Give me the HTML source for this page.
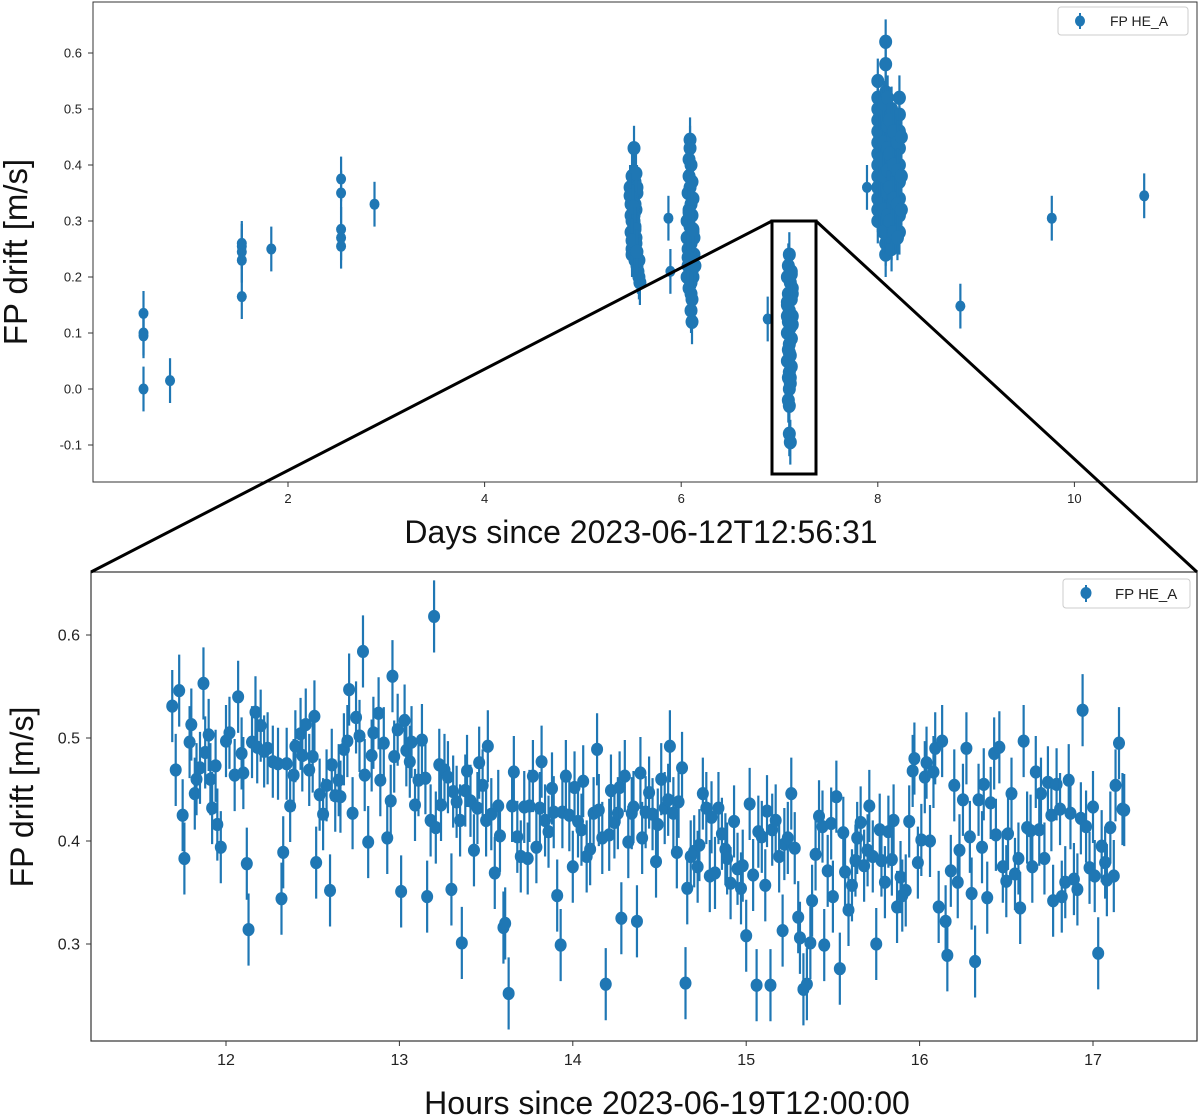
<!DOCTYPE html>
<html><head><meta charset="utf-8"><style>
html,body{margin:0;padding:0;background:#fff;}
svg{display:block;font-family:"Liberation Sans","DejaVu Sans",sans-serif;}
</style></head><body>
<svg id="chart" width="1200" height="1116" viewBox="0 0 1200 1116"></svg>
<script>
// ---- top panel data ----
const topDays = [0.53,0.53,0.53,0.53,0.80,1.53,1.53,1.53,1.53,1.53,1.83,2.54,2.54,2.54,2.54,2.54,2.88,5.87,5.89,6.88,7.89,8.84,9.77,10.71];
const topVals = [0.135,0.10,0.095,0.0,0.015,0.165,0.23,0.245,0.255,0.26,0.25,0.375,0.35,0.285,0.27,0.255,0.33,0.305,0.21,0.125,0.36,0.148,0.305,0.345];
const clusterADays = [5.52,5.50,5.53,5.48,5.55,5.51,5.49,5.54,5.52,5.50,5.53,5.49,5.51,5.54,5.52,5.50,5.53,5.55,5.56,5.57,5.58,5.51,5.53,5.49,5.52,5.54,5.50,5.55,5.52,5.57,5.54,5.48,5.51,5.53,5.50,5.55];
const clusterAVals = [0.43,0.38,0.37,0.36,0.35,0.34,0.33,0.32,0.31,0.30,0.29,0.28,0.27,0.26,0.25,0.24,0.23,0.22,0.21,0.20,0.19,0.35,0.33,0.31,0.29,0.27,0.25,0.36,0.30,0.23,0.385,0.345,0.325,0.285,0.265,0.245];
const clusterBDays = [6.09,6.09,6.08,6.10,6.08,6.09,6.07,6.10,6.08,6.11,6.07,6.09,6.12,6.06,6.10,6.08,6.13,6.09,6.07,6.11,6.12,6.10,6.08,6.11,6.10,6.11,6.12,6.06,6.13,6.07,6.14,6.06,6.11,6.08,6.12,6.07,6.10];
const clusterBVals = [0.445,0.43,0.41,0.40,0.38,0.36,0.35,0.33,0.32,0.31,0.30,0.29,0.28,0.27,0.26,0.25,0.24,0.23,0.22,0.21,0.20,0.19,0.18,0.16,0.14,0.12,0.34,0.30,0.27,0.25,0.22,0.20,0.37,0.315,0.285,0.235,0.17];
const clusterCDays = [7.10,7.09,7.12,7.08,7.11,7.13,7.09,7.12,7.08,7.10,7.13,7.09,7.11,7.08,7.12,7.10,7.09,7.11,7.08,7.12,7.10,7.09,7.11,7.10,7.09,7.10,7.10,7.11,7.13,7.08,7.12,7.09,7.11,7.12,7.08,7.13,7.10];
const clusterCVals = [0.24,0.22,0.21,0.20,0.19,0.18,0.17,0.16,0.15,0.14,0.13,0.12,0.11,0.10,0.09,0.08,0.07,0.06,0.05,0.04,0.03,0.02,0.01,0.00,-0.02,-0.03,-0.08,-0.095,0.17,0.13,0.09,0.05,0.02,0.205,0.155,0.115,0.065];
const clusterDDays = [8.00,8.00,8.00,8.00,8.00,8.00,8.00,8.00,8.00,8.00,8.00,8.00,8.00,8.08,8.08,8.08,8.08,8.08,8.08,8.08,8.08,8.08,8.08,8.08,8.14,8.14,8.14,8.14,8.14,8.14,8.14,8.14,8.14,8.14,8.22,8.22,8.22,8.22,8.22,8.22,8.22,8.22,8.22,8.04,8.04,8.04,8.04,8.04,8.18,8.18,8.18,8.18,8.18,8.18,8.02,8.02,8.02,8.02,8.06,8.06,8.06,8.06,8.06,8.10,8.10,8.10,8.10,8.10,8.10,8.12,8.12,8.12,8.12,8.16,8.16,8.16,8.16,8.20,8.20,8.20,8.20,8.24,8.24,8.24];
const clusterDVals = [0.55,0.52,0.50,0.48,0.46,0.44,0.42,0.40,0.38,0.36,0.34,0.32,0.30,0.62,0.58,0.53,0.49,0.45,0.41,0.37,0.33,0.29,0.26,0.24,0.50,0.47,0.44,0.41,0.38,0.35,0.32,0.29,0.27,0.25,0.52,0.49,0.46,0.43,0.40,0.37,0.34,0.31,0.28,0.47,0.43,0.39,0.35,0.31,0.45,0.42,0.39,0.36,0.33,0.30,0.49,0.45,0.41,0.33,0.51,0.44,0.38,0.32,0.28,0.52,0.47,0.43,0.39,0.35,0.31,0.48,0.42,0.36,0.30,0.46,0.40,0.34,0.28,0.44,0.39,0.33,0.27,0.45,0.38,0.32];
const topXTicks = [2,4,6,8,10];
const topYTicks = [-0.1,0.0,0.1,0.2,0.3,0.4,0.5,0.6];
const topErr = 0.04;

// ---- bottom panel data ----
const hours = [11.69,11.71,11.73,11.75,11.76,11.79,11.80,11.82,11.83,11.85,11.87,11.88,11.90,11.91,11.92,11.94,11.95,11.97,12.00,12.02,12.05,12.07,12.09,12.10,12.12,12.13,12.15,12.17,12.18,12.20,12.22,12.24,12.27,12.30,12.32,12.33,12.35,12.37,12.39,12.40,12.43,12.44,12.46,12.48,12.50,12.51,12.52,12.54,12.56,12.58,12.60,12.61,12.63,12.65,12.66,12.68,12.70,12.71,12.73,12.75,12.77,12.79,12.80,12.82,12.84,12.85,12.88,12.89,12.91,12.93,12.95,12.96,12.97,12.99,13.01,13.03,13.04,13.06,13.07,13.09,13.11,13.13,13.15,13.16,13.18,13.20,13.21,13.23,13.24,13.26,13.28,13.30,13.31,13.33,13.35,13.36,13.38,13.39,13.41,13.43,13.45,13.46,13.48,13.50,13.51,13.53,13.55,13.57,13.58,13.60,13.61,13.63,13.65,13.66,13.68,13.70,13.72,13.74,13.75,13.77,13.79,13.81,13.82,13.84,13.86,13.88,13.89,13.91,13.93,13.94,13.96,13.98,14.00,14.01,14.03,14.05,14.06,14.08,14.10,14.12,14.14,14.15,14.17,14.19,14.21,14.22,14.24,14.26,14.27,14.28,14.30,14.32,14.34,14.35,14.37,14.39,14.40,14.42,14.44,14.46,14.48,14.49,14.51,14.53,14.55,14.56,14.58,14.60,14.61,14.63,14.65,14.66,14.68,14.70,14.72,14.73,14.75,14.77,14.79,14.80,14.82,14.84,14.86,14.88,14.89,14.91,14.93,14.95,14.97,14.98,15.00,15.02,15.04,15.06,15.07,15.09,15.11,15.12,15.14,15.15,15.17,15.19,15.21,15.22,15.24,15.26,15.28,15.30,15.31,15.33,15.35,15.37,15.38,15.40,15.42,15.44,15.45,15.47,15.49,15.50,15.52,15.54,15.56,15.57,15.59,15.61,15.63,15.64,15.66,15.68,15.70,15.71,15.73,15.75,15.77,15.78,15.80,15.82,15.84,15.85,15.87,15.89,15.90,15.92,15.94,15.96,15.97,15.99,16.01,16.03,16.04,16.06,16.08,16.09,16.11,16.13,16.15,16.16,16.18,16.20,16.22,16.23,16.25,16.27,16.29,16.30,16.32,16.34,16.36,16.37,16.39,16.41,16.43,16.44,16.46,16.48,16.50,16.51,16.53,16.55,16.57,16.58,16.60,16.62,16.64,16.65,16.67,16.69,16.70,16.72,16.74,16.76,16.77,16.79,16.81,16.82,16.84,16.86,16.87,16.89,16.91,16.93,16.94,16.96,16.98,17.00,17.01,17.03,17.05,17.07,17.08,17.10,17.12,17.13,17.15,17.17,17.18];
const drift = [0.531,0.469,0.546,0.425,0.383,0.496,0.513,0.446,0.460,0.471,0.553,0.486,0.503,0.460,0.432,0.473,0.416,0.394,0.497,0.505,0.464,0.540,0.485,0.466,0.378,0.314,0.496,0.525,0.491,0.512,0.487,0.490,0.477,0.475,0.344,0.389,0.475,0.434,0.464,0.492,0.504,0.483,0.513,0.469,0.482,0.521,0.379,0.445,0.426,0.454,0.352,0.474,0.444,0.459,0.443,0.489,0.497,0.547,0.427,0.520,0.502,0.584,0.464,0.399,0.483,0.505,0.524,0.459,0.495,0.403,0.439,0.560,0.482,0.508,0.351,0.517,0.488,0.477,0.496,0.435,0.459,0.498,0.461,0.346,0.420,0.618,0.413,0.474,0.435,0.469,0.462,0.353,0.448,0.438,0.420,0.301,0.449,0.468,0.439,0.391,0.432,0.476,0.454,0.420,0.492,0.426,0.369,0.434,0.405,0.316,0.320,0.252,0.434,0.467,0.404,0.385,0.433,0.383,0.434,0.463,0.394,0.432,0.477,0.420,0.409,0.451,0.428,0.347,0.299,0.428,0.463,0.425,0.375,0.452,0.419,0.411,0.458,0.385,0.392,0.427,0.489,0.430,0.403,0.261,0.406,0.449,0.418,0.427,0.452,0.325,0.463,0.399,0.427,0.433,0.322,0.466,0.403,0.428,0.447,0.426,0.380,0.416,0.460,0.432,0.440,0.492,0.427,0.389,0.438,0.471,0.262,0.354,0.385,0.390,0.375,0.396,0.446,0.432,0.366,0.423,0.369,0.432,0.407,0.392,0.383,0.359,0.419,0.373,0.354,0.376,0.308,0.436,0.367,0.260,0.409,0.404,0.357,0.429,0.260,0.411,0.420,0.385,0.313,0.397,0.403,0.446,0.393,0.326,0.306,0.256,0.261,0.301,0.342,0.387,0.424,0.414,0.299,0.371,0.417,0.346,0.443,0.276,0.408,0.370,0.333,0.357,0.381,0.403,0.418,0.376,0.391,0.434,0.385,0.300,0.411,0.381,0.360,0.409,0.382,0.420,0.336,0.365,0.347,0.352,0.419,0.468,0.480,0.379,0.401,0.462,0.476,0.400,0.467,0.490,0.336,0.497,0.322,0.289,0.371,0.454,0.360,0.391,0.440,0.490,0.404,0.349,0.283,0.440,0.394,0.455,0.345,0.437,0.485,0.406,0.491,0.375,0.361,0.407,0.446,0.368,0.383,0.335,0.497,0.413,0.410,0.375,0.467,0.411,0.446,0.383,0.457,0.425,0.342,0.455,0.431,0.346,0.360,0.459,0.427,0.363,0.353,0.422,0.527,0.414,0.374,0.433,0.366,0.291,0.395,0.379,0.362,0.413,0.366,0.454,0.495,0.431,0.430];
const botXTicks = [12,13,14,15,16,17];
const botYTicks = [0.3,0.4,0.5,0.6];
const botErr = 0.035;

const NS = 'http://www.w3.org/2000/svg';
const svg = document.getElementById('chart');
const C = '#1f77b4';
function mk(tag, attrs, parent){ const e=document.createElementNS(NS,tag); for(const k in attrs) e.setAttribute(k,attrs[k]); (parent||svg).appendChild(e); return e; }

// axis functions
const tx = d => 91.4 + 98.3*d;
const ty = v => 389 - 560*v;
const bx = h => 226 + 173.4*(h-12);
const by = v => 738 - 1030*(v-0.5);

function drawPoints(g, xs, ys, fx, fy, err, r, name){
  for(let i=0;i<xs.length;i++){
    const x=fx(xs[i]), y=fy(ys[i]);
    const l=mk('line',{x1:x,x2:x,y1:fy(ys[i]+err),y2:fy(ys[i]-err),stroke:C,'stroke-width':2.2},g);
    
    
    const c=mk('ellipse',{cx:x,cy:y,rx:r,ry:r*1.1,fill:C},g);
    
    
  }
}

// ---- top panel ----
const gTop = mk('g',{});


drawPoints(gTop, topDays, topVals, tx, ty, topErr, 5, 'top');
drawPoints(gTop, clusterADays, clusterAVals, tx, ty, topErr, 6.5, 'cluster-a');
drawPoints(gTop, clusterBDays, clusterBVals, tx, ty, topErr, 6.5, 'cluster-b');
drawPoints(gTop, clusterCDays, clusterCVals, tx, ty, topErr, 6.5, 'cluster-c');
drawPoints(gTop, clusterDDays, clusterDVals, tx, ty, topErr, 6.5, 'cluster-d');
const tf = mk('rect',{x:93,y:2,width:1104,height:480,fill:'none',stroke:'#333','stroke-width':1},gTop);


topXTicks.forEach(t=>{
  const x=tx(t);
  mk('line',{x1:x,x2:x,y1:482,y2:487,stroke:'#333'},gTop);
  const s=mk('text',{x:x,y:503,'font-size':13,'text-anchor':'middle',fill:'#222'},gTop);
  s.textContent=t;
  
  
});
topYTicks.forEach(t=>{
  const y=ty(t);
  mk('line',{x1:88,x2:93,y1:y,y2:y,stroke:'#333'},gTop);
  const s=mk('text',{x:82,y:y+4.5,'font-size':13,'text-anchor':'end',fill:'#222'},gTop);
  s.textContent=t.toFixed(1);
  
  
});

// ---- bottom panel ----
const gBot = mk('g',{});


drawPoints(gBot, hours, drift, bx, by, botErr, 6, 'zoom');
const bf = mk('rect',{x:91,y:572,width:1106,height:469,fill:'none',stroke:'#333','stroke-width':1.2},gBot);


botXTicks.forEach(t=>{
  const x=bx(t);
  mk('line',{x1:x,x2:x,y1:1041,y2:1046,stroke:'#333'},gBot);
  const s=mk('text',{x:x,y:1065,'font-size':16,'text-anchor':'middle',fill:'#222'},gBot);
  s.textContent=t;
  
  
});
botYTicks.forEach(t=>{
  const y=by(t);
  mk('line',{x1:86,x2:91,y1:y,y2:y,stroke:'#333'},gBot);
  const s=mk('text',{x:80,y:y+5.5,'font-size':16,'text-anchor':'end',fill:'#222'},gBot);
  s.textContent=t.toFixed(1);
  
  
});
</script>
<script>
// static overlay: zoom box, connector lines, legends, titles
(function(){
const svg=document.getElementById('chart');
const html = `
<rect x="772" y="221" width="44" height="253" fill="none" stroke="#000" stroke-width="3"/>
<line x1="772" y1="221" x2="91" y2="572" stroke="#000" stroke-width="3"/>
<line x1="816" y1="221" x2="1197" y2="572" stroke="#000" stroke-width="3"/>
<g>
<rect x="1058" y="7" width="130" height="28" rx="3" fill="#fff" stroke="#ccc"/>
<line x1="1080" y1="13" x2="1080" y2="29" stroke="#1f77b4" stroke-width="2"/>
<ellipse cx="1080" cy="21" rx="5" ry="5.5" fill="#1f77b4"/>
<text x="1110" y="26" font-size="14" fill="#222">FP HE_A</text>
</g>
<g>
<rect x="1063" y="579" width="127" height="29" rx="3" fill="#fff" stroke="#ccc"/>
<line x1="1086" y1="585" x2="1086" y2="602" stroke="#1f77b4" stroke-width="2"/>
<ellipse cx="1086" cy="593" rx="5.5" ry="6" fill="#1f77b4"/>
<text x="1115" y="599" font-size="15" fill="#222">FP HE_A</text>
</g>
<text transform="translate(27,252) rotate(-90)" text-anchor="middle" font-size="33" fill="#111">FP drift [m/s]</text>
<text x="641" y="543" text-anchor="middle" font-size="32" fill="#111">Days since 2023-06-12T12:56:31</text>
<text transform="translate(33,797) rotate(-90)" text-anchor="middle" font-size="32" fill="#111">FP drift [m/s]</text>
<text x="667" y="1114" text-anchor="middle" font-size="32" fill="#111">Hours since 2023-06-19T12:00:00</text>`;
svg.insertAdjacentHTML('beforeend', html);
})();
</script>
</body></html>
